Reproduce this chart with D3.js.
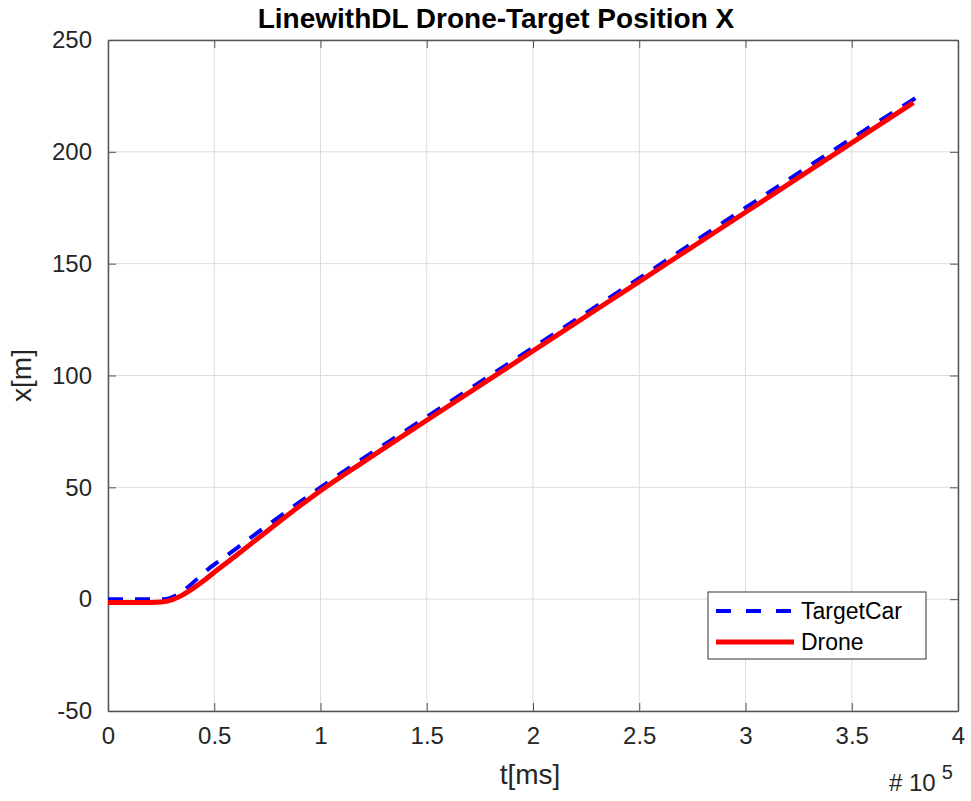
<!DOCTYPE html>
<html lang="en">
<head>
  <meta charset="utf-8">
  <title>LinewithDL Drone-Target Position X</title>
  <style>
    body { margin: 0; background: #fff; }
    svg text { font-family: "Liberation Sans", Arial, Helvetica, sans-serif; fill: #262626; }
    .grid line { stroke: #dcdcdc; stroke-width: 1; }
    .axis path, .axis line { stroke: #555; }
    .axis text { font-size: 24px; }
  </style>
</head>
<body>
  <div id="chart"></div>
  <script src="https://d3js.org/d3.v7.min.js"></script>
  <script>
    // time in units of 1e5 ms
    var targetT = [0, 0.26, 0.5, 0.75, 1, 1.5, 2, 2.5, 3, 3.5, 3.8];
    var targetX = [0, 0, 15.5, 33, 50, 81.5, 112.5, 143.5, 175, 206, 224];

    var droneT = [0, 0.2, 0.25, 0.3, 0.35, 0.4, 0.45, 0.5, 0.6, 0.75, 0.9, 1, 1.2, 1.5, 2, 2.5, 3, 3.5, 3.79];
    var droneX = [-1.5, -1.5, -1.3, -0.3, 1.8, 4.8, 8.2, 12, 19.3, 30.5, 41.5, 48.5, 61.3, 80, 111, 142, 173, 204, 222];

    var xTicks = [0, 0.5, 1, 1.5, 2, 2.5, 3, 3.5, 4];
    var yTicks = [-50, 0, 50, 100, 150, 200, 250];

    var W = 971, H = 801;
    var margin = { top: 40, right: 13, bottom: 90, left: 108 };
    var width = W - margin.left - margin.right;
    var height = H - margin.top - margin.bottom;

    var svg = d3.select("#chart").append("svg")
      .attr("width", W)
      .attr("height", H);

    var g = svg.append("g")
      .attr("transform", "translate(" + margin.left + "," + margin.top + ")");

    var x = d3.scaleLinear().domain([0, 4]).range([0, width]);
    var y = d3.scaleLinear().domain([-50, 250]).range([height, 0]);

    // grid
    g.append("g").attr("class", "grid")
      .selectAll("line").data(xTicks).enter().append("line")
      .attr("x1", function(d) { return x(d); }).attr("x2", function(d) { return x(d); })
      .attr("y1", 0).attr("y2", height);
    g.append("g").attr("class", "grid")
      .selectAll("line").data(yTicks).enter().append("line")
      .attr("y1", function(d) { return y(d); }).attr("y2", function(d) { return y(d); })
      .attr("x1", 0).attr("x2", width);

    // axes (ticks inside, box on)
    var fmt = function(d) { return String(d); };
    g.append("g").attr("class", "axis")
      .attr("transform", "translate(0," + height + ")")
      .call(d3.axisBottom(x).tickValues(xTicks).tickFormat(fmt).tickSizeInner(-8).tickSizeOuter(0).tickPadding(16));
    g.append("g").attr("class", "axis")
      .call(d3.axisLeft(y).tickValues(yTicks).tickFormat(fmt).tickSizeInner(-8).tickSizeOuter(0).tickPadding(16));
    g.append("g").attr("class", "axis")
      .call(d3.axisTop(x).tickValues(xTicks).tickFormat("").tickSizeInner(-8).tickSizeOuter(0));
    g.append("g").attr("class", "axis")
      .attr("transform", "translate(" + width + ",0)")
      .call(d3.axisRight(y).tickValues(yTicks).tickFormat("").tickSizeInner(-8).tickSizeOuter(0));
    g.selectAll(".axis path").attr("stroke-width", 1.5);

    var line = d3.line()
      .x(function(d) { return x(d[0]); })
      .y(function(d) { return y(d[1]); })
      .curve(d3.curveMonotoneX);

    var target = targetT.map(function(t, i) { return [t, targetX[i]]; });
    var drone = droneT.map(function(t, i) { return [t, droneX[i]]; });

    g.append("path").datum(target)
      .attr("d", line)
      .attr("fill", "none")
      .attr("stroke", "#0000ff")
      .attr("stroke-width", 4)
      .attr("stroke-dasharray", "15,12");

    g.append("path").datum(drone)
      .attr("d", line)
      .attr("fill", "none")
      .attr("stroke", "#ff0000")
      .attr("stroke-width", 5);

    // title and labels
    svg.append("text")
      .attr("x", margin.left + width / 2 - 37).attr("y", 28)
      .attr("text-anchor", "middle")
      .style("font-size", "28px").style("font-weight", "bold")
      .style("fill", "#000")
      .text("LinewithDL Drone-Target Position X");

    svg.append("text")
      .attr("x", 530).attr("y", 784)
      .attr("text-anchor", "middle")
      .style("font-size", "28px")
      .text("t[ms]");

    svg.append("text")
      .attr("transform", "translate(31," + (margin.top + height / 2) + ") rotate(-90)")
      .attr("text-anchor", "middle")
      .style("font-size", "28px")
      .text("x[m]");

    var exp = svg.append("text")
      .attr("x", 889).attr("y", 791)
      .style("font-size", "24px");
    exp.append("tspan").text("# 10");
    exp.append("tspan").attr("dx", 6).attr("dy", -12).style("font-size", "20px").text("5");

    // legend
    var leg = svg.append("g").attr("transform", "translate(708,592)");
    leg.append("rect")
      .attr("width", 218).attr("height", 67)
      .attr("fill", "#fff").attr("stroke", "#333").attr("stroke-width", 1);
    var items = [
      { name: "TargetCar", color: "#0000ff", dash: "15,15", w: 4 },
      { name: "Drone", color: "#ff0000", dash: null, w: 5 }
    ];
    items.forEach(function(it, i) {
      var yy = 19 + i * 31;
      leg.append("line")
        .attr("x1", 8).attr("x2", 86).attr("y1", yy).attr("y2", yy)
        .attr("stroke", it.color).attr("stroke-width", it.w)
        .attr("stroke-dasharray", it.dash);
      leg.append("text")
        .attr("x", 93).attr("y", yy + 8)
        .style("font-size", "23px").style("fill", "#000")
        .text(it.name);
    });
  </script>
</body>
</html>
